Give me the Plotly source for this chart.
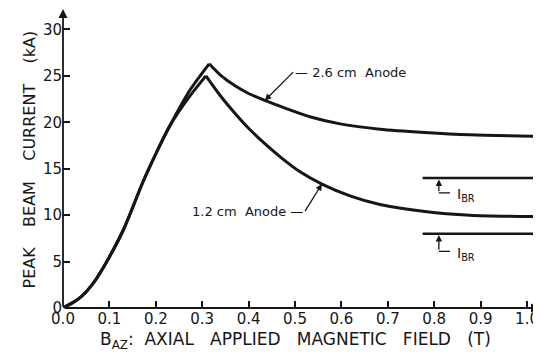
import plotly.graph_objects as go

# Shared rising branch (both anodes)
rise_x = [0.0, 0.02, 0.04, 0.065, 0.1, 0.13, 0.15, 0.17, 0.2, 0.23]
rise_y = [0.0, 0.55, 1.25, 2.65, 5.5, 8.4, 10.8, 13.3, 16.6, 19.6]

# 2.6 cm anode: upper rising part and decay
a26_up_x = [0.274, 0.315]
a26_up_y = [23.5, 26.3]
a26_dn_x = [0.315, 0.34, 0.37, 0.40, 0.435, 0.48, 0.532, 0.60, 0.683, 0.78, 0.877, 1.015]
a26_dn_y = [26.3, 25.05, 23.95, 23.1, 22.35, 21.5, 20.6, 19.8, 19.25, 18.9, 18.65, 18.5]

# 1.2 cm anode: upper rising part and decay
a12_up_x = [0.27, 0.308]
a12_up_y = [22.6, 25.0]
a12_dn_x = [0.308, 0.34, 0.37, 0.40, 0.435, 0.47, 0.51, 0.558, 0.62, 0.683, 0.78, 0.877, 1.015]
a12_dn_y = [25.0, 22.8, 21.0, 19.35, 17.7, 16.2, 14.7, 13.35, 12.05, 11.15, 10.4, 10.0, 9.85]

# I_BR levels
ibr_x = [0.775, 1.015]
ibr_26 = [14.0, 14.0]
ibr_12 = [8.0, 8.0]

x_ticks = [0.0, 0.1, 0.2, 0.3, 0.4, 0.5, 0.6, 0.7, 0.8, 0.9, 1.0]
y_ticks = [0, 5, 10, 15, 20, 25, 30]

INK = "#161616"
FONT = "DejaVu Sans"

fig = go.Figure()

def add_line(x, y, w=3.0, shape="spline"):
    fig.add_trace(go.Scatter(x=x, y=y, mode="lines",
                             line=dict(color=INK, width=w, shape=shape, smoothing=0.7),
                             showlegend=False, hoverinfo="skip"))

add_line(rise_x + a26_up_x, rise_y + a26_up_y)
add_line(a26_dn_x, a26_dn_y)
add_line(rise_x + a12_up_x, rise_y + a12_up_y)
add_line(a12_dn_x, a12_dn_y)
add_line(ibr_x, ibr_26, w=2.5, shape="linear")
add_line(ibr_x, ibr_12, w=2.5, shape="linear")

XMAX = 1.028
YMAX = 32.2
NB = "\u00a0"

ann = []
# axis arrows
ann.append(dict(x=XMAX, y=0, ax=0, ay=0, xref="x", yref="y", axref="x", ayref="y",
                text="", showarrow=True, arrowhead=2, arrowsize=1, arrowwidth=1.8,
                arrowcolor=INK))
ann.append(dict(x=0, y=YMAX, ax=0, ay=0, xref="x", yref="y", axref="x", ayref="y",
                text="", showarrow=True, arrowhead=2, arrowsize=1, arrowwidth=1.8,
                arrowcolor=INK))
# curve labels
ann.append(dict(x=0.435, y=22.35, ax=0.496, ay=25.4, xref="x", yref="y", axref="x", ayref="y",
                text="\u2014 2.6 cm" + NB * 2 + "Anode", xanchor="left", yanchor="middle",
                showarrow=True, arrowhead=2, arrowsize=1, arrowwidth=1.3, arrowcolor=INK,
                font=dict(family=FONT, size=13, color=INK)))
ann.append(dict(x=0.558, y=13.35, ax=0.5216, ay=10.44, xref="x", yref="y", axref="x", ayref="y",
                text="1.2 cm" + NB * 2 + "Anode \u2014", xanchor="right", yanchor="middle",
                showarrow=True, arrowhead=2, arrowsize=1, arrowwidth=1.3, arrowcolor=INK,
                font=dict(family=FONT, size=13, color=INK)))
# I_BR labels
for ylev, ybot in [(14.0, 12.4), (8.0, 6.1)]:
    ann.append(dict(x=0.81, y=ylev - 0.15, ax=0.81, ay=ybot, xref="x", yref="y", axref="x", ayref="y",
                    text="", showarrow=True, arrowhead=2, arrowsize=1, arrowwidth=1.3,
                    arrowcolor=INK))
    ann.append(dict(x=0.845, y=ybot - 0.25, xref="x", yref="y", text="I<sub>BR</sub>",
                    showarrow=False, xanchor="left", yanchor="middle",
                    font=dict(family=FONT, size=14, color=INK)))
# axis titles
ann.append(dict(x=0, y=0.495, xref="paper", yref="paper", xshift=-45, textangle=-90,
                text=("PEAK" + NB * 4 + "BEAM" + NB * 4 + "CURRENT" + NB * 4 + "(kA)"),
                showarrow=False, font=dict(family=FONT, size=16, color=INK)))
ann.append(dict(x=0.488, y=0, xref="paper", yref="paper", yshift=-32, yanchor="middle",
                text=("B<sub>AZ</sub>:" + NB * 2 + "AXIAL" + NB * 3 + "APPLIED" + NB * 3 +
                      "MAGNETIC" + NB * 3 + "FIELD" + NB * 3 + "(T)"),
                showarrow=False, font=dict(family=FONT, size=17, color=INK)))

shapes = []
for ybot in [12.4, 6.1]:
    shapes.append(dict(type="line", xref="x", yref="y", x0=0.81, x1=0.834, y0=ybot, y1=ybot,
                       line=dict(color=INK, width=1.3)))

# page body has an 8px margin: compensate so the plot lands where the reference has it
fig.update_layout(
    width=533, height=351,
    margin=dict(l=55, r=1, t=0.8, b=51),
    paper_bgcolor="white", plot_bgcolor="white",
    annotations=ann, shapes=shapes,
    xaxis=dict(range=[0, XMAX], tickvals=x_ticks, ticktext=[f"{v:.1f}" for v in x_ticks],
               ticks="inside", ticklen=7, tickwidth=1.5, tickcolor=INK,
               showgrid=False, zeroline=False, showline=False,
               tickfont=dict(family=FONT, size=15, color=INK)),
    yaxis=dict(range=[0, YMAX], tickvals=y_ticks,
               ticks="inside", ticklen=7, tickwidth=1.5, tickcolor=INK,
               showgrid=False, zeroline=False, showline=False,
               tickfont=dict(family=FONT, size=15, color=INK)),
)

fig.write_html("out.html")
